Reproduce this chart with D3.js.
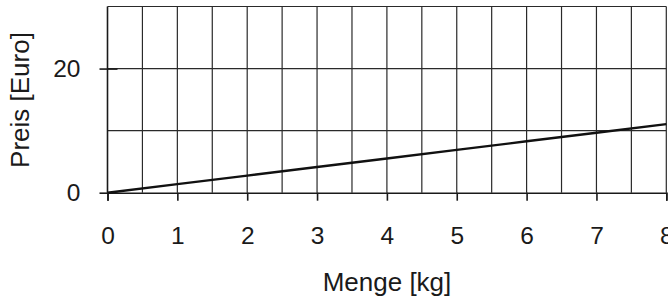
<!DOCTYPE html>
<html>
<head>
<meta charset="utf-8">
<script src="https://cdn.jsdelivr.net/npm/d3@7"></script>
<style>
  html, body { margin: 0; padding: 0; background: #fff; overflow: hidden; }
  svg { display: block; font-family: "Liberation Sans", Arial, Helvetica, sans-serif; }
</style>
</head>
<body>
<svg id="chart" width="668" height="302"></svg>
<script>
// ---- data ----
const quantityKg = [0, 1, 2, 3, 4, 5, 6, 7, 8];
const priceEuro  = [0, 1.38, 2.76, 4.14, 5.52, 6.9, 8.28, 9.66, 11.04];
const xTickValues = [0, 1, 2, 3, 4, 5, 6, 7, 8];
const yTickValues = [0, 20];
const xGridValues = [0.5, 1, 1.5, 2, 2.5, 3, 3.5, 4, 4.5, 5, 5.5, 6, 6.5, 7, 7.5, 8];
const yGridValues = [10, 20, 30];
const xDomain = [0, 8];
const yDomain = [0, 30];
const xTitle = "Menge [kg]";
const yTitle = "Preis [Euro]";

// ---- drawing ----
const svg = d3.select("#chart");
const x = d3.scaleLinear().domain(xDomain).range([107.5, 666.3]);
const y = d3.scaleLinear().domain(yDomain).range([192.7, 6.5]);

const gridColor = "#2a2a2a";
const tickFont = "24.5px";

// vertical grid
svg.append("g").selectAll("line").data(xGridValues).join("line")
  .attr("x1", d => x(d)).attr("x2", d => x(d))
  .attr("y1", y(yDomain[0])).attr("y2", y(yDomain[1]))
  .attr("stroke", gridColor).attr("stroke-width", 1.2);

// horizontal grid
svg.append("g").selectAll("line").data(yGridValues).join("line")
  .attr("x1", x(xDomain[0])).attr("x2", x(xDomain[1]))
  .attr("y1", d => y(d)).attr("y2", d => y(d))
  .attr("stroke", gridColor).attr("stroke-width", 1.2);

// x axis
const xAxis = d3.axisBottom(x).tickValues(xTickValues).tickSize(8).tickPadding(26)
  .tickFormat(d3.format("d"));
const gx = svg.append("g").attr("transform", `translate(0,${y(0)})`).call(xAxis);
gx.attr("font-size", null).attr("font-family", null);
gx.select(".domain").attr("stroke", "#1a1a1a").attr("stroke-width", 1.6);
gx.selectAll(".tick line").attr("stroke", "#1a1a1a").attr("stroke-width", 1.6);
gx.selectAll(".tick text").attr("fill", "#1a1a1a").style("font-size", tickFont);

// y axis
const yAxis = d3.axisLeft(y).tickValues(yTickValues).tickSize(8).tickPadding(19)
  .tickFormat(d3.format("d"));
const gy = svg.append("g").attr("transform", `translate(${x(0)},0)`).call(yAxis);
gy.attr("font-size", null).attr("font-family", null);
gy.select(".domain").attr("stroke", "#1a1a1a").attr("stroke-width", 1.6)
  .attr("d", `M0,${y(yDomain[0])}V${y(yDomain[1])}`);
gy.selectAll(".tick line").attr("stroke", "#1a1a1a").attr("stroke-width", 1.6)
  .attr("x1", 10).attr("x2", -8);
gy.selectAll(".tick text").attr("fill", "#1a1a1a").style("font-size", tickFont);

// line
const line = d3.line().x((d, i) => x(quantityKg[i])).y(d => y(d));
svg.append("path").datum(priceEuro)
  .attr("d", line).attr("fill", "none")
  .attr("stroke", "#111").attr("stroke-width", 2.4);

// titles
svg.append("text").attr("x", 387).attr("y", 291).attr("text-anchor", "middle")
  .attr("fill", "#1a1a1a").style("font-size", "26px").text(xTitle);
svg.append("text").attr("transform", "translate(28.5,100) rotate(-90)")
  .attr("text-anchor", "middle").attr("fill", "#1a1a1a")
  .style("font-size", "26px").text(yTitle);
</script>
</body>
</html>
